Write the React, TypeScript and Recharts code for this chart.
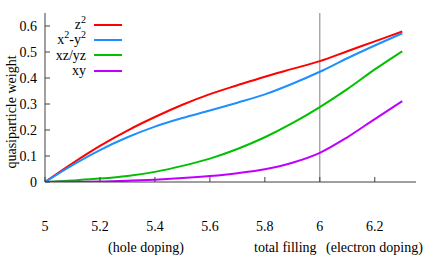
import React from 'react';
import { LineChart, Line, XAxis, YAxis, ReferenceLine } from 'recharts';

const filling = [5.0, 5.1, 5.2, 5.3, 5.4, 5.5, 5.6, 5.7, 5.8, 5.9, 6.0, 6.1, 6.2, 6.3];
const z2 = [0, 0.072, 0.139, 0.198, 0.25, 0.297, 0.338, 0.372, 0.405, 0.435, 0.465, 0.503, 0.541, 0.579];
const x2y2 = [0, 0.065, 0.123, 0.172, 0.213, 0.246, 0.275, 0.305, 0.337, 0.378, 0.424, 0.476, 0.525, 0.572];
const xzyz = [0, 0.006, 0.013, 0.023, 0.039, 0.062, 0.09, 0.127, 0.172, 0.226, 0.288, 0.357, 0.433, 0.503];
const xy = [0, 0.001, 0.002, 0.005, 0.009, 0.015, 0.023, 0.034, 0.049, 0.074, 0.112, 0.172, 0.242, 0.311];
const xTicks = [5, 5.2, 5.4, 5.6, 5.8, 6, 6.2];
const yTicks = [0, 0.1, 0.2, 0.3, 0.4, 0.5, 0.6];

const data = filling.map((f, i) => ({ f, z2: z2[i], x2y2: x2y2[i], xzyz: xzyz[i], xy: xy[i] }));

const FONT = '"Times New Roman", "Liberation Serif", "DejaVu Serif", serif';
const FRAME = '#404040';

const sup = { fontSize: 10, verticalAlign: 'super', lineHeight: 0 } as React.CSSProperties;
const legendItems = [
  { key: 'z2', label: <span>z<span style={sup}>2</span></span>, color: '#ff0000' },
  { key: 'x2y2', label: <span>x<span style={sup}>2</span>-y<span style={sup}>2</span></span>, color: '#1e8fff' },
  { key: 'xzyz', label: <span>xz/yz</span>, color: '#00c000' },
  { key: 'xy', label: <span>xy</span>, color: '#c000ff' },
];

const XTick = (props: any) => {
  const { x, y, payload } = props;
  return (
    <text x={x} y={y} dy={28} textAnchor="middle" style={{ fontFamily: FONT, fontSize: 14 }} fill="#000">
      {String(Math.round(payload.value * 10) / 10)}
    </text>
  );
};
const YTick = (props: any) => {
  const { x, y, payload } = props;
  return (
    <text x={x} y={y} dy={5} textAnchor="end" style={{ fontFamily: FONT, fontSize: 14 }} fill="#000">
      {String(Math.round(payload.value * 10) / 10)}
    </text>
  );
};

export default function App() {
  return (
    <div style={{ position: 'absolute', left: 0, top: 0, width: 436, height: 262, background: '#fff' }}>
      <LineChart width={436} height={262} data={data} margin={{ top: 13, right: 20, bottom: 50, left: 0 }}>
        <XAxis
          xAxisId="b"
          dataKey="f"
          type="number"
          domain={[5, 6.35]}
          ticks={xTicks}
          allowDataOverflow
          tickSize={-5}
          tickMargin={26}
          stroke={FRAME}
          tick={<XTick />}
        />
        <XAxis
          xAxisId="t"
          orientation="top"
          dataKey="f"
          type="number"
          domain={[5, 6.35]}
          ticks={xTicks}
          allowDataOverflow
          tickSize={-5}
          height={0}
          stroke={FRAME}
          tickFormatter={() => ''}
        />
        <YAxis
          yAxisId="l"
          type="number"
          domain={[0, 0.65]}
          ticks={yTicks}
          allowDataOverflow
          width={45}
          tickSize={-5}
          tickMargin={13}
          stroke={FRAME}
          tick={<YTick />}
        />
        <YAxis
          yAxisId="r"
          orientation="right"
          type="number"
          domain={[0, 0.65]}
          ticks={yTicks}
          allowDataOverflow
          width={0}
          tickSize={-5}
          stroke={FRAME}
          tickFormatter={() => ''}
        />
        <ReferenceLine xAxisId="b" yAxisId="l" x={6} stroke="#808080" strokeWidth={1} />
        <Line xAxisId="b" yAxisId="l" type="monotone" dataKey="z2" stroke="#ff0000" strokeWidth={2} dot={false} isAnimationActive={false} />
        <Line xAxisId="b" yAxisId="l" type="monotone" dataKey="x2y2" stroke="#1e8fff" strokeWidth={2} dot={false} isAnimationActive={false} />
        <Line xAxisId="b" yAxisId="l" type="monotone" dataKey="xzyz" stroke="#00c000" strokeWidth={2} dot={false} isAnimationActive={false} />
        <Line xAxisId="b" yAxisId="l" type="monotone" dataKey="xy" stroke="#c000ff" strokeWidth={2} dot={false} isAnimationActive={false} />
      </LineChart>
      <div style={{ position: 'absolute', left: 0, top: 17, fontFamily: FONT, fontSize: 14, color: '#000' }}>
        {legendItems.map((it) => (
          <div key={it.key} style={{ display: 'flex', alignItems: 'center', height: 15.3 }}>
            <div style={{ width: 86, textAlign: 'right', lineHeight: '15px' }}>{it.label}</div>
            <div style={{ width: 28, height: 2, background: it.color, marginLeft: 8 }} />
          </div>
        ))}
      </div>
      <div
        style={{
          position: 'absolute', left: 12, top: 112, width: 0, height: 0,
          fontFamily: FONT, fontSize: 14, color: '#000',
        }}
      >
        <div style={{ position: 'absolute', left: 0, top: 0, transform: 'translate(-50%, -50%) rotate(-90deg)', whiteSpace: 'nowrap' }}>
          quasiparticle weight
        </div>
      </div>
      <div style={{ position: 'absolute', top: 240, left: 0, width: 436, fontFamily: FONT, fontSize: 14, color: '#000' }}>
        <span style={{ position: 'absolute', left: 108 }}>(hole doping)</span>
        <span style={{ position: 'absolute', left: 254 }}>total filling</span>
        <span style={{ position: 'absolute', left: 326 }}>(electron doping)</span>
      </div>
    </div>
  );
}
